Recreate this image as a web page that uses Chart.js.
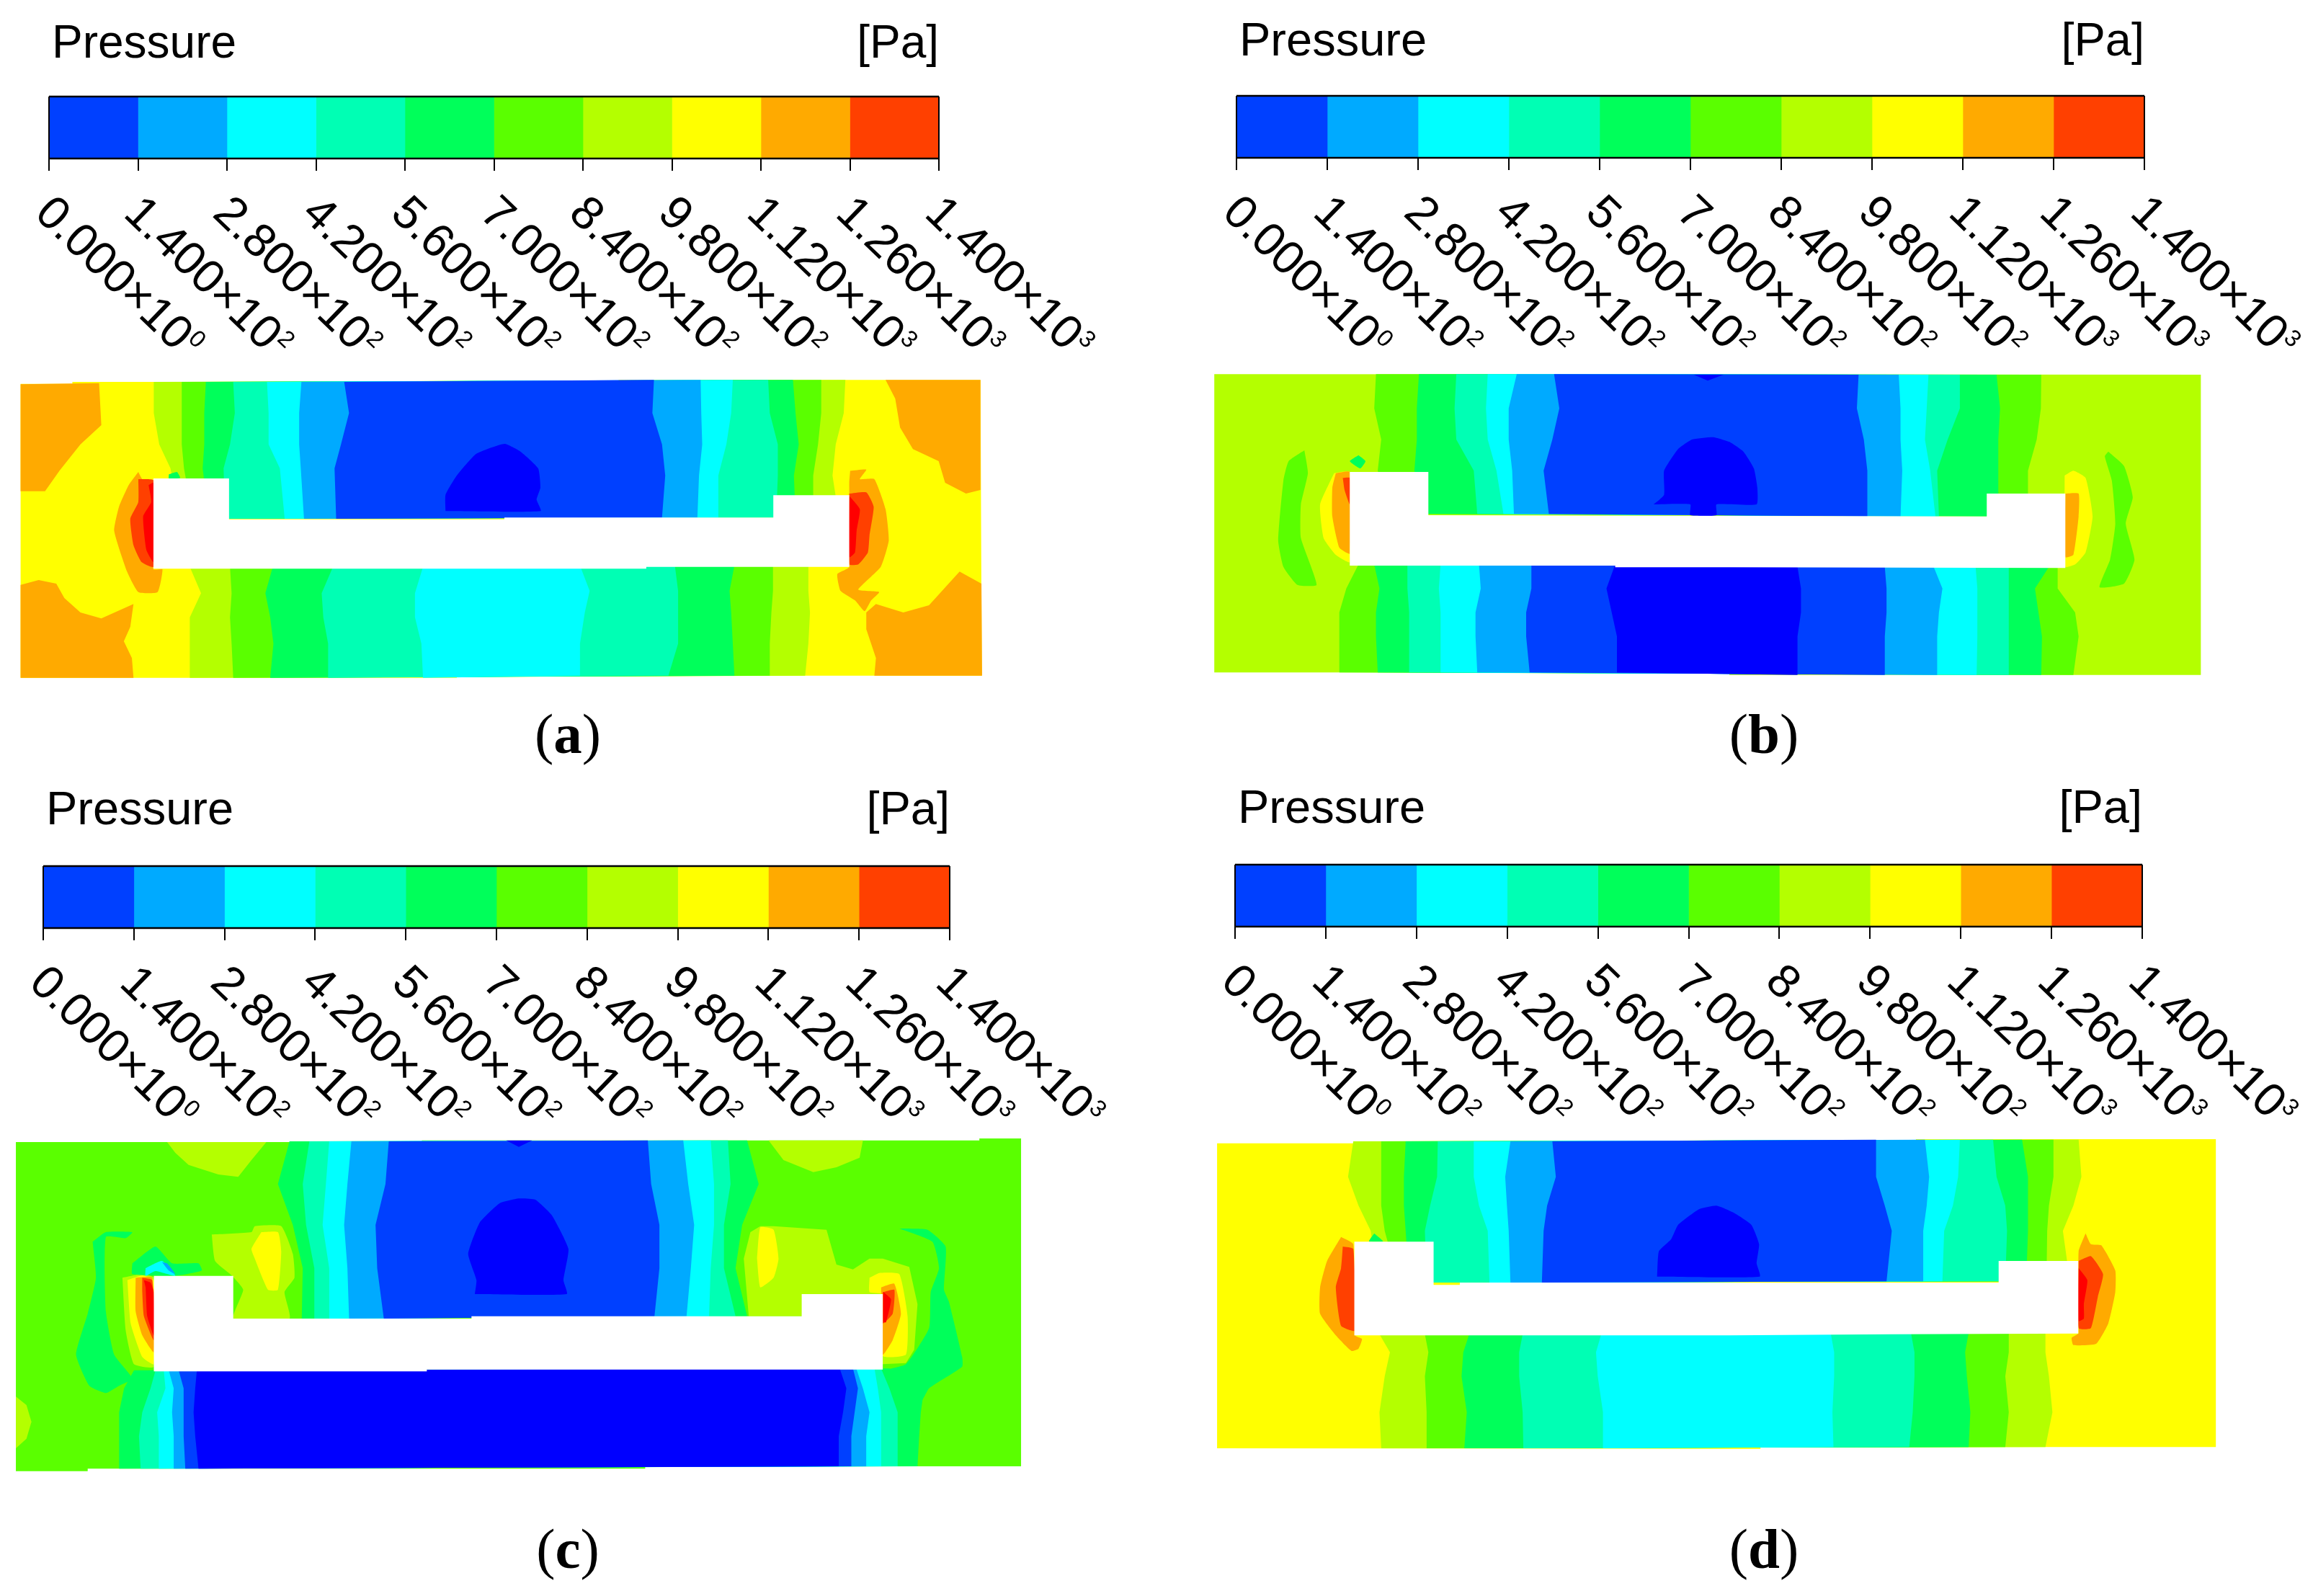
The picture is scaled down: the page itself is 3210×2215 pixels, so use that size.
<!DOCTYPE html>
<html><head><meta charset="utf-8">
<script src="https://cdn.jsdelivr.net/npm/chart.js@4"></script>
<style>
html,body{margin:0;padding:0;background:#fff;overflow:hidden}
#page{position:relative;width:3210px;height:2215px;background:#fff}
canvas{position:absolute}
.cap{position:absolute;width:200px;text-align:center;font:79px/90px "Liberation Serif",serif;color:#000}
</style></head><body><div id="page"></div>
<script>
// ---- colour bar -------------------------------------------------------
const barTitle = "Pressure";
const barUnit = "[Pa]";
const bandWidthPa = [140,140,140,140,140,140,140,140,140,140];
const tickMantissa = ["0.000","1.400","2.800","4.200","5.600","7.000","8.400","9.800","1.120","1.260","1.400"];
const tickExponent = ["0","2","2","2","2","2","2","2","3","3","3"];
const bandColors = ["#0040ff","#00aaff","#00ffff","#00ffb4","#00ff5a","#5aff00","#b4ff00","#ffff00","#ffaa00","#ff4000"];
const deepBlue = "#0000ff", pureRed = "#ff0000";
const captions = ["a","b","c","d"];

// ---- panel (a) : contour bands, field units ----------------------------
const aOutline = [64,68,225,68,225,60,1923,60,1923,52,3048,52,3052,1283,1420,1283,1420,1292,64,1292];
const aOuterLevel = 7;
const aTopYL = [60,190,320,420,630];
const aTopYR = [52,190,320,450,625];
const aTopL = [[478,478,495,530,560],[565,565,565,572,600],[640,635,635,630,650],[725,730,715,695,700],[830,835,835,870,885],[937,930,930,935,945],[1070,1085,1060,1040,1045]];
const aTopR = [[1060,1055,1030,1020,1040],[985,985,975,960,960],[897,905,915,900,905],[820,825,850,850,845],[710,705,690,665,665],[610,612,615,605,600],[465,460,490,500,490]];
const aLowYL = [830,940,1040,1150,1292];
const aLowYR = [825,930,1020,1150,1283];
const aLowL = [[590,625,590,590,590],[715,720,715,720,725],[848,825,840,850,840],[1035,1000,1005,1020,1020],[1315,1290,1290,1310,1315]];
const aLowR = [[945,945,950,945,935],[835,835,830,825,825],[715,700,705,710,715],[530,540,540,540,510],[235,265,250,235,235]];
const aBlobs = [
 [8,[64,70,308,65,315,240,250,320,185,430,140,515,64,515],0],
 [8,[64,905,120,885,175,900,200,960,250,1020,315,1045,415,985,405,1080,385,1140,410,1210,415,1292,64,1292],0],
 [8,[2753,52,3048,52,3048,510,3003,525,2938,480,2918,390,2838,340,2798,250,2783,130],0],
 [8,[2983,850,3051,900,3053,1283,2718,1283,2723,1210,2693,1090,2693,1020,2723,985,2808,1020,2888,990],0],
 [-1,[1385,598,1385,530,1420,450,1480,360,1568,318,1618,350,1673,420,1680,500,1668,550,1681,598]],
 [8,[430,435,445,470,477,470,477,840,505,840,490,935,430,935,395,850,355,680,370,580,400,490]],
 [9,[430,465,477,470,477,830,440,810,415,740,405,630,430,560]],
 [10,[462,490,477,480,477,810,455,760,445,620,470,560]],
 [4,[525,445,550,435,560,460,525,462]],
 [8,[2643,430,2693,425,2673,465,2718,465,2753,590,2763,720,2738,830,2668,925,2733,935,2708,970,2688,1015,2658,970,2613,930,2603,860,2640,830,2640,480]],
 [9,[2640,525,2693,520,2716,580,2703,700,2698,770,2668,820,2640,820]],
 [10,[2640,535,2673,590,2663,680,2658,770,2640,790]]
];
const aBody = [477,462,712,462,712,632,1568,632,1568,625,2404,625,2404,532,2640,532,2640,830,2009,830,2009,838,477,838];

// ---- panel (b) ---------------------------------------------------------
const bOutline = [52,58,2877,60,2877,1310,1527,1310,1527,1300,52,1300];
const bOuterLevel = 6;
const bTopYL = [58,200,330,460,640];
const bTopYR = [60,200,330,460,650];
const bTopL = [[515,510,530,520,560],[638,632,632,625,660],[745,740,745,795,805],[835,830,835,860,880],[918,895,895,905,910],[1025,1040,1020,995,1010]];
const bTopR = [[893,892,880,855,855],[765,775,770,770,770],[660,660,625,595,600],[570,565,560,575,590],[485,490,490,495,490],[370,365,385,395,395]];
const bLowYL = [850,950,1050,1150,1300];
const bLowYR = [860,950,1050,1150,1310];
const bLowL = [[465,430,410,410,410],[510,525,515,515,520],[605,605,610,610,610],[700,695,700,700,700],[810,815,800,800,805],[960,960,945,945,955],[1200,1175,1190,1205,1205]];
const bLowR = [[940,940,990,1000,985],[915,875,885,895,893],[800,800,800,800,800],[705,710,710,710,708],[585,610,600,595,595],[445,450,450,445,445],[195,205,205,195,195]];
const bBlobs = [
 [-1,[1425,60,1510,60,1465,85],0],
 [-1,[1310,600,1340,560,1340,460,1380,370,1420,330,1480,320,1527,340,1567,380,1597,450,1607,530,1605,600,1490,600,1490,645,1415,645,1415,600]],
 [5,[310,375,320,470,300,600,300,740,345,935,290,935,250,860,235,750,250,500,265,420]],
 [7,[395,470,440,465,440,840,400,810,365,740,355,600]],
 [8,[400,470,440,465,440,805,410,780,390,650,390,530]],
 [9,[420,490,440,490,440,600,425,540]],
 [4,[465,395,485,420,470,450,440,420]],
 [5,[2612,380,2657,440,2682,570,2662,680,2687,830,2657,930,2587,945,2617,830,2632,680,2622,500,2602,400]],
 [7,[2487,480,2512,460,2547,490,2567,650,2547,800,2517,850,2489,860]],
 [8,[2489,555,2527,555,2527,650,2512,810,2489,820]]
];
const bBody = [440,465,665,465,665,645,2264,650,2264,555,2489,555,2489,865,1527,862,1200,862,1200,855,440,855];

// ---- panel (c) ---------------------------------------------------------
const cOutline = [48,75,1275,75,1275,68,2960,68,2960,60,3086,60,3086,1425,1950,1425,1950,1435,265,1435,265,1445,48,1445];
const cOuterLevel = 5;
const cTopYL = [72,250,420,600,810];
const cTopYR = [68,250,420,600,800];
const cTopL = [[875,840,885,915,912],[935,915,925,950,950],[995,985,975,995,995],[1062,1050,1040,1050,1055],[1175,1165,1135,1140,1160]];
const cTopR = [[690,725,675,655,690],[632,640,620,620,655],[580,590,590,580,575],[497,512,530,520,507],[390,400,425,425,410]];
const cLowYL = [1025,1100,1200,1300,1435];
const cLowYR = [1018,1100,1200,1300,1425];
const cLowL = [[405,375,360,360,360],[470,455,430,420,425],[495,500,475,480,480],[510,525,520,525,525],[540,555,555,555,560],[595,590,585,590,600]];
const cLowR = [[1120,1225,1215,1210,1205],[1095,1120,1145,1145,1145],[1075,1085,1095,1095,1095],[1020,1040,1060,1050,1050],[1010,1025,1015,1005,1005],[970,990,980,967,967]];
const cBlobs = [
 [-1,[1530,68,1568,95,1608,68],0],
 [-1,[1435,708,1440,650,1415,540,1450,410,1510,330,1568,310,1618,315,1668,380,1718,520,1703,650,1713,708]],
 [6,[505,75,805,75,760,150,720,220,660,210,570,170,530,120],0],
 [6,[48,1135,80,1170,95,1240,80,1310,48,1350],0],
 [6,[2323,68,2608,68,2598,140,2528,180,2458,200,2368,150],0],
 [6,[640,460,760,450,770,425,850,425,885,540,890,640,860,700,875,810,705,810,735,690,700,630,650,570]],
 [7,[790,450,840,450,850,530,840,690,810,690,770,560,760,520]],
 [4,[280,490,320,450,400,450,380,475,320,470,320,780,345,960,400,1060,360,1090,320,1120,270,1090,230,960,265,790,290,640]],
 [4,[2718,435,2803,440,2858,510,2853,690,2868,740,2908,970,2908,1010,2808,1100,2783,1155,2718,1090,2668,1030,2738,1000,2808,850,2813,700,2838,600,2818,490]],
 [6,[2263,800,2248,560,2268,450,2298,425,2338,425,2498,440,2528,585,2578,605,2628,560,2668,560,2748,595,2773,750,2763,940,2738,995,2668,1000,2423,800],0],
 [7,[2288,560,2298,430,2338,440,2353,560,2338,640,2298,680]],
 [7,[2628,640,2658,620,2718,625,2743,800,2738,960,2668,965,2668,710,2628,700]],
 [8,[2663,680,2703,665,2723,790,2698,900,2668,960]],
 [9,[2668,700,2703,690,2698,790,2668,830]],
 [10,[2670,700,2693,730,2678,825,2670,825]],
 [6,[370,640,430,625,465,640,465,1010,405,1000,380,860]],
 [7,[385,650,430,630,465,650,465,1000,430,970,395,830]],
 [8,[410,640,460,640,465,950,430,880,410,780]],
 [9,[430,640,460,650,465,900,435,800,430,700]],
 [10,[435,650,455,660,465,700,465,880,445,800,440,680]],
 [4,[400,580,470,510,520,580,600,580,610,610,530,632,400,625]],
 [2,[440,600,490,570,530,632,470,612,440,632]],
 [1,[490,575,505,580,530,625,510,610]]
];
const cBody = [465,632,705,632,705,810,1425,810,1425,800,2423,800,2423,708,2668,708,2668,1022,1290,1022,1290,1030,465,1030];

// ---- panel (d) ---------------------------------------------------------
const dOutline = [60,80,450,80,450,72,2061,72,2061,63,2920,63,2920,1345,1616,1345,1616,1352,60,1350];
const dOuterLevel = 7;
const dTopYL = [72,220,340,445,660];
const dTopYR = [65,220,340,445,655];
const dTopL = [[450,435,465,500,520],[530,530,530,540,580],[600,595,595,600,610],[692,690,670,655,660],[795,795,810,835,840],[900,885,890,895,900],[1020,1030,1005,995,990]];
const dTopR = [[1000,1008,985,955,975],[928,928,915,910,908],[838,855,855,855,850],[755,765,790,795,790],[660,655,640,615,610],[560,572,565,555,555],[420,420,445,465,450]];
const dLowYL = [875,950,1050,1200,1350];
const dLowYR = [870,950,1050,1200,1345];
const dLowL = [[525,555,540,525,530],[655,665,655,660,660],[782,765,760,775,768],[935,925,925,935,937],[1160,1145,1150,1165,1165]];
const dLowR = [[905,905,915,925,905],[800,800,790,800,790],[685,675,680,690,685],[520,530,530,525,515],[290,300,300,295,298]];
const dBlobs = [
 [-1,[1320,635,1325,530,1360,480,1380,420,1440,355,1490,340,1540,370,1590,420,1612,500,1605,580,1614,635]],
 [8,[415,470,450,500,455,880,475,895,465,935,445,945,400,880,355,790,355,680,375,570]],
 [9,[420,510,450,520,455,860,415,840,400,680,415,600]],
 [4,[510,455,535,488,495,488]],
 [8,[2547,455,2562,500,2592,505,2632,610,2632,700,2612,830,2577,915,2512,920,2507,890,2527,870,2527,530]],
 [9,[2527,570,2562,550,2597,625,2582,720,2562,850,2527,850]],
 [10,[2527,600,2552,650,2542,750,2542,810,2527,820]]
];
const dBody = [453,490,680,490,680,670,755,670,755,660,2298,660,2298,570,2526,570,2526,872,1990,875,1527,880,453,880];

// ---- helpers -----------------------------------------------------------
const page = document.getElementById("page");
Chart.defaults.animation = false;
const SMOOTH = 0.15;
function levelColor(l){ return l < 0 ? deepBlue : l > 9 ? pureRed : bandColors[l]; }
function addCanvas(left, top, w, h){
  const c = document.createElement("canvas");
  c.width = w; c.height = h;
  c.style.left = left + "px"; c.style.top = top + "px";
  c.style.width = w + "px"; c.style.height = h + "px";
  page.appendChild(c);
  return c;
}
function pairs(flat){
  const out = [];
  for (let i = 0; i < flat.length; i += 2) out.push({x: flat[i], y: flat[i + 1]});
  out.push({x: flat[0], y: flat[1]});
  return out;
}
function poly(points, color, tension){
  // the (invisible) dash keeps Chart.js off its fast path, so polygon vertices stay exact
  return {data: points, showLine: true, fill: "shape", backgroundColor: color, borderColor: color,
          borderWidth: 0, borderDash: [4, 4], pointRadius: 0, tension: tension || 0};
}
function bandPolys(outer, yL, rowsL, yR, rowsR, shift){
  return rowsL.map((row, i) => {
    const pts = row.map((x, j) => ({x, y: yL[j]}));
    const back = rowsR[i].map((x, j) => ({x: x + shift, y: yR[j]})).reverse();
    const all = pts.concat(back);
    all.push(pts[0]);
    return poly(all, levelColor(outer - 1 - i), 0);
  });
}
function contour(p){
  const sets = [poly(pairs(p.outline), levelColor(p.outer), 0)]
    .concat(bandPolys(p.outer, p.topYL, p.topL, p.topYR, p.topR, p.shift))
    .concat(bandPolys(p.outer, p.lowYL, p.lowL, p.lowYR, p.lowR, p.shift))
    .concat(p.blobs.map(b => poly(pairs(b[1]), levelColor(b[0]), b[2] === 0 ? 0 : SMOOTH)))
    .concat([poly(pairs(p.body), "#ffffff", 0)]);
  sets.forEach((s, i) => { s.order = sets.length - i; });
  new Chart(addCanvas(p.left, p.top, p.w, p.h), {
    type: "scatter",
    data: {datasets: sets},
    options: {
      responsive: false, devicePixelRatio: 1, animation: false,
      layout: {padding: 0},
      plugins: {legend: {display: false}, tooltip: {enabled: false}, filler: {propagate: false}},
      scales: {
        x: {type: "linear", display: false, min: 0, max: p.xMax},
        y: {type: "linear", display: false, min: 0, max: p.yMax, reverse: true}
      }
    }
  });
}
const labelPlugin = {
  id: "barText",
  afterDraw(chart, args, opts){
    const {ctx, chartArea: a, scales: {x}} = chart;
    ctx.save();
    ctx.strokeStyle = "#000";
    ctx.lineWidth = 2.5;
    ctx.beginPath();
    ctx.moveTo(a.left, a.top); ctx.lineTo(a.right, a.top);
    ctx.moveTo(a.left, a.bottom); ctx.lineTo(a.right, a.bottom);
    ctx.stroke();
    ctx.lineWidth = 2;
    ctx.beginPath();
    ctx.moveTo(a.left, a.top); ctx.lineTo(a.left, a.bottom);
    ctx.moveTo(a.right, a.top); ctx.lineTo(a.right, a.bottom);
    ctx.stroke();
    ctx.fillStyle = "#000";
    ctx.textBaseline = "alphabetic";
    ctx.font = opts.titleSize + 'px "Liberation Sans"';
    ctx.textAlign = "left";
    ctx.fillText(barTitle, a.left + 4, a.top - opts.titleGap);
    ctx.textAlign = "right";
    ctx.fillText(barUnit, a.right, a.top - opts.titleGap);
    ctx.textAlign = "left";
    x.ticks.forEach((t, i) => {
      const main = tickMantissa[i] + "\u00d710";
      ctx.save();
      ctx.translate(x.getPixelForValue(t.value) - 22, a.bottom + 79);
      ctx.rotate(44 * Math.PI / 180);
      ctx.font = '65px "Liberation Sans"';
      ctx.fillText(main, 0, 0);
      const w = ctx.measureText(main).width;
      ctx.font = '33px "Liberation Sans"';
      ctx.fillText(tickExponent[i], w + 1, -24);
      ctx.restore();
    });
    ctx.restore();
  }
};
function colourBar(b){
  const tickLen = 17;
  new Chart(addCanvas(b.left, b.top, b.w, b.h), {
    type: "bar",
    data: {labels: [barTitle], datasets: bandWidthPa.map((v, i) => ({
      data: [v], backgroundColor: bandColors[i], borderWidth: 0,
      barPercentage: 1, categoryPercentage: 1, stack: "p"}))},
    options: {
      indexAxis: "y", responsive: false, devicePixelRatio: 1, animation: false,
      layout: {padding: {left: b.x0 - b.left, right: b.left + b.w - b.x1, top: b.y0 - b.top,
                         bottom: b.top + b.h - b.y1 - tickLen}},
      plugins: {legend: {display: false}, tooltip: {enabled: false},
                barText: {titleSize: b.titleSize, titleGap: b.titleGap}},
      scales: {
        x: {type: "linear", min: 0, max: 1400, stacked: true,
            border: {display: false},
            grid: {drawOnChartArea: false, drawTicks: true, tickLength: tickLen, color: "#000", lineWidth: 2},
            ticks: {display: false, stepSize: 140, autoSkip: false,
                    callback: (v, i) => tickMantissa[i] + "\u00d710" + tickExponent[i]}},
        y: {display: false, stacked: true}
      }
    },
    plugins: [labelPlugin]
  });
}
function caption(letter, cx, cy){
  const d = document.createElement("div");
  d.className = "cap";
  d.style.left = (cx - 100) + "px";
  d.style.top = (cy - 45) + "px";
  d.innerHTML = "(<b>" + letter + "</b>)";
  page.appendChild(d);
}

// ---- assemble ----------------------------------------------------------
contour({left:0,top:510,w:1400,h:460,xMax:3136,yMax:1380,shift:1568,outer:aOuterLevel,outline:aOutline,
  topYL:aTopYL,topL:aTopL,topYR:aTopYR,topR:aTopR,lowYL:aLowYL,lowL:aLowL,lowYR:aLowYR,lowR:aLowR,blobs:aBlobs,body:aBody});
contour({left:1660,top:500,w:1500,h:460,xMax:3095,yMax:1380,shift:1527,outer:bOuterLevel,outline:bOutline,
  topYL:bTopYL,topL:bTopL,topYR:bTopYR,topR:bTopR,lowYL:bLowYL,lowL:bLowL,lowYR:bLowYR,lowR:bLowR,blobs:bBlobs,body:bBody});
contour({left:0,top:1560,w:1440,h:500,xMax:3136,yMax:1500,shift:1568,outer:cOuterLevel,outline:cOutline,
  topYL:cTopYL,topL:cTopL,topYR:cTopYR,topR:cTopR,lowYL:cLowYL,lowL:cLowL,lowYR:cLowYR,lowR:cLowR,blobs:cBlobs,body:cBody});
contour({left:1660,top:1560,w:1500,h:480,xMax:3095,yMax:1440,shift:1527,outer:dOuterLevel,outline:dOutline,
  topYL:dTopYL,topL:dTopL,topYR:dTopYR,topR:dTopR,lowYL:dLowYL,lowL:dLowL,lowYR:dLowYR,lowR:dLowR,blobs:dBlobs,body:dBody});

colourBar({left:0,top:0,w:1640,h:520,x0:68,x1:1303,y0:134,y1:220,titleSize:64,titleGap:54});
colourBar({left:1640,top:0,w:1570,h:520,x0:1716,x1:2976,y0:133,y1:219,titleSize:65,titleGap:56});
colourBar({left:0,top:1060,w:1640,h:520,x0:60,x1:1318,y0:1202,y1:1288,titleSize:65,titleGap:58});
colourBar({left:1640,top:1060,w:1570,h:520,x0:1714,x1:2973,y0:1200,y1:1286,titleSize:65,titleGap:58});

caption(captions[0], 788, 1019);
caption(captions[1], 2448, 1019);
caption(captions[2], 788, 2150);
caption(captions[3], 2448, 2150);
</script></body></html>
